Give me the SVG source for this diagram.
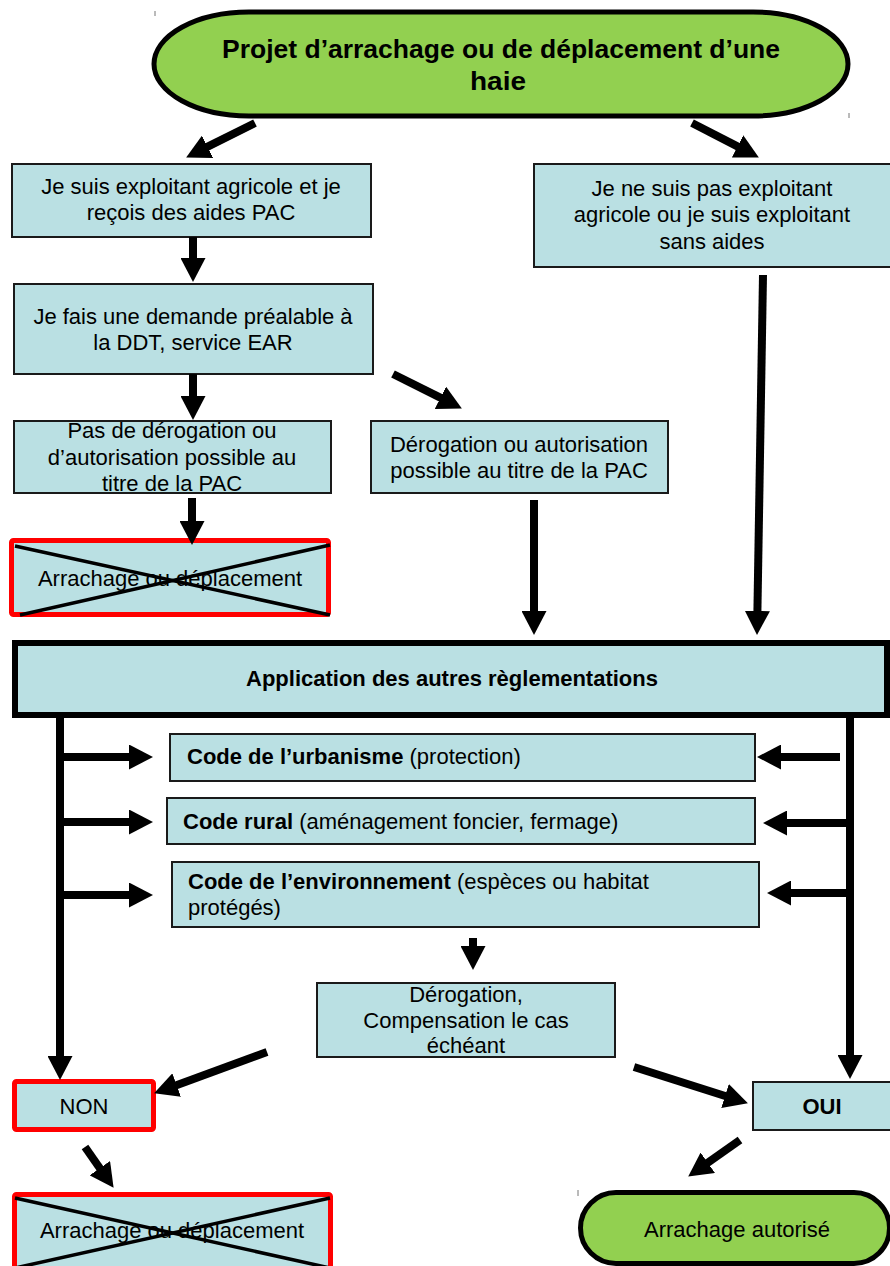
<svg xmlns="http://www.w3.org/2000/svg" width="890" height="1266" viewBox="0 0 890 1266">
<defs>
<marker id="ah" markerUnits="userSpaceOnUse" markerWidth="24" markerHeight="25" viewBox="0 0 24 25" refX="1" refY="12.5" orient="auto">
<path d="M0,0 L24,12.5 L0,25 Z" fill="#000"/>
</marker>
<style>
text{font-family:"Liberation Sans",Arial,Helvetica,sans-serif;fill:#000;font-size:22px}
.c{text-anchor:middle}
.b{font-weight:bold}
.t{font-size:25px;font-weight:bold}
.box{fill:#BAE0E3;stroke:#1a1a1a;stroke-width:2}
.red{fill:#BAE0E3;stroke:#FF0000;stroke-width:5}
.green{fill:#92D050;stroke:#000;stroke-width:5}
.x{stroke:#000;stroke-width:3.5}
.tick{stroke:#777;stroke-width:1}
.arr{stroke:#000;stroke-width:8;fill:none;marker-end:url(#ah)}
</style>
</defs>
<rect width="890" height="1266" fill="#fff"/>

<line class="tick" x1="155" y1="11" x2="155" y2="16"/>
<line class="tick" x1="849" y1="113" x2="849" y2="118"/>
<line class="tick" x1="578" y1="1190" x2="578" y2="1196"/>

<g id="start">
<rect class="green" x="154" y="12" width="694" height="104" rx="95" ry="52"/>
<text class="c t" x="501" y="58" textLength="558" lengthAdjust="spacingAndGlyphs">Projet d’arrachage ou de déplacement d’une</text>
<text class="c t" x="498" y="90" textLength="56" lengthAdjust="spacingAndGlyphs">haie</text>
</g>

<g id="pac">
<rect class="box" x="12" y="164" width="359" height="73"/>
<text class="c" x="191" y="194">Je suis exploitant agricole et je</text>
<text class="c" x="191" y="220">reçois des aides PAC</text>
</g>

<g id="nonpac">
<rect class="box" x="534" y="164" width="360" height="103"/>
<text class="c" x="712" y="196">Je ne suis pas exploitant</text>
<text class="c" x="712" y="222">agricole ou je suis exploitant</text>
<text class="c" x="712" y="249">sans aides</text>
</g>

<g id="demande">
<rect class="box" x="14" y="284" width="359" height="90"/>
<text class="c" x="193" y="324">Je fais une demande préalable à</text>
<text class="c" x="193" y="350">la DDT, service EAR</text>
</g>

<g id="pasderog">
<rect class="box" x="14" y="421" width="317" height="72"/>
<text class="c" x="172" y="438">Pas de dérogation ou</text>
<text class="c" x="172" y="465">d’autorisation possible au</text>
<text class="c" x="172" y="491">titre de la PAC</text>
</g>

<g id="derogpac">
<rect class="box" x="371" y="421" width="297" height="72"/>
<text class="c" x="519" y="452">Dérogation ou autorisation</text>
<text class="c" x="519" y="478">possible au titre de la PAC</text>
</g>

<g id="interdit1">
<rect class="red" x="11.5" y="540.5" width="317" height="74" rx="2"/>
<text class="c" x="170" y="586">Arrachage ou déplacement</text>
<line class="x" x1="15" y1="546" x2="330" y2="615"/>
<line class="x" x1="20" y1="615" x2="330" y2="545"/>
</g>

<g id="autres">
<rect x="15" y="643" width="872" height="72" fill="#BAE0E3" stroke="#000" stroke-width="6"/>
<text class="c b" x="452" y="686">Application des autres règlementations</text>
</g>

<g id="urba">
<rect class="box" x="170" y="734" width="585" height="47"/>
<text x="187" y="764"><tspan class="b">Code de l’urbanisme</tspan> (protection)</text>
</g>

<g id="rural">
<rect class="box" x="167" y="798" width="588" height="46"/>
<text x="183" y="829"><tspan class="b">Code rural</tspan> (aménagement foncier, fermage)</text>
</g>

<g id="env">
<rect class="box" x="172" y="862" width="587" height="65"/>
<text x="188" y="889"><tspan class="b">Code de l’environnement</tspan> (espèces ou habitat</text>
<text x="188" y="915">protégés)</text>
</g>

<g id="derog">
<rect class="box" x="317" y="983" width="298" height="74"/>
<text class="c" x="466" y="1002">Dérogation,</text>
<text class="c" x="466" y="1028">Compensation le cas</text>
<text class="c" x="466" y="1053">échéant</text>
</g>

<g id="non">
<rect class="red" x="14.5" y="1081.5" width="139" height="48" rx="2"/>
<text class="c" x="84" y="1114">NON</text>
</g>

<g id="oui">
<rect class="box" x="753" y="1082" width="140" height="48"/>
<text class="c b" x="822" y="1114">OUI</text>
</g>

<g id="interdit2">
<rect class="red" x="14.5" y="1194.5" width="316" height="80" rx="2"/>
<text class="c" x="172" y="1238">Arrachage ou déplacement</text>
<line class="x" x1="15" y1="1198" x2="330" y2="1268"/>
<line class="x" x1="15" y1="1268" x2="330" y2="1198"/>
</g>

<g id="autorise">
<rect class="green" x="580.5" y="1192.5" width="309" height="71" rx="35.5"/>
<text class="c" x="737" y="1237">Arrachage autorisé</text>
</g>

<g id="connectors">
<line class="arr" x1="255" y1="123" x2="206.7" y2="147.2"/>
<line class="arr" x1="692" y1="123" x2="738.4" y2="146.9"/>
<line class="arr" x1="193" y1="237" x2="193" y2="259"/>
<line class="arr" x1="193" y1="374" x2="193" y2="397"/>
<line class="arr" x1="192" y1="498" x2="192" y2="522"/>
<line class="arr" x1="393" y1="374" x2="441.3" y2="398.2"/>
<line class="arr" x1="763" y1="275" x2="757.4" y2="612"/>
<line class="arr" x1="534" y1="500" x2="534" y2="612"/>
<line class="arr" x1="60" y1="716" x2="60" y2="1057"/>
<line class="arr" x1="850" y1="716" x2="850" y2="1056"/>
<line class="arr" x1="60" y1="757" x2="130" y2="757"/>
<line class="arr" x1="60" y1="822" x2="130" y2="822"/>
<line class="arr" x1="60" y1="895" x2="130" y2="895"/>
<line class="arr" x1="840" y1="757" x2="780" y2="757"/>
<line class="arr" x1="850" y1="823" x2="786" y2="823"/>
<line class="arr" x1="850" y1="893" x2="790" y2="893"/>
<line class="arr" x1="473" y1="938" x2="473" y2="947"/>
<line class="arr" x1="267" y1="1052" x2="175.7" y2="1085.4"/>
<line class="arr" x1="85" y1="1147" x2="100.4" y2="1169"/>
<line class="arr" x1="634" y1="1067" x2="726" y2="1096.3"/>
<line class="arr" x1="740" y1="1140" x2="707" y2="1163.3"/>
</g>
</svg>
